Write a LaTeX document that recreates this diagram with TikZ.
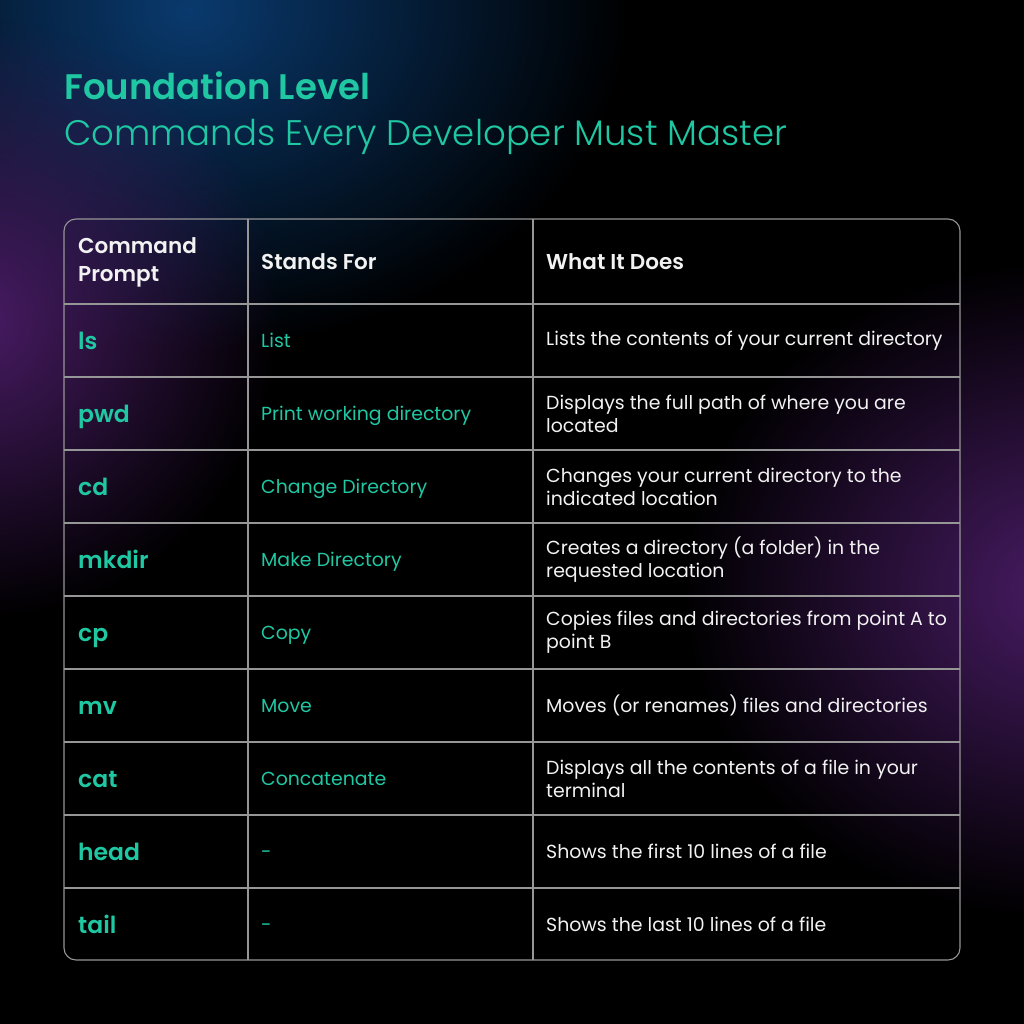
\documentclass[tikz,border=0pt]{standalone}
\usepackage{fontspec}
\setmainfont{Poppins}
\IfFontExistsTF{Poppins Light}{\newfontfamily\poplight{Poppins Light}}{\newfontfamily\poplight{Poppins}}
\IfFontExistsTF{Poppins SemiBold}{\newfontfamily\popsemi{Poppins SemiBold}}{\newcommand\popsemi{\bfseries}}
\usetikzlibrary{fadings}

\definecolor{cmdteal}{RGB}{32,199,163}
\definecolor{gridgray}{RGB}{150,150,150}
\definecolor{glowblue}{RGB}{10,58,110}
\definecolor{glowpurple}{RGB}{72,28,100}
\definecolor{textwhite}{RGB}{242,242,242}

\tikzfading[name=glow, inner color=transparent!0, outer color=transparent!100]

\begin{document}
\begin{tikzpicture}[x=1pt,y=-1pt,
    grid/.style={draw=gridgray, line width=1.1pt},
    headtext/.style={anchor=west, text=textwhite, align=left, font=\fontsize{21.5}{28}\selectfont\popsemi},
    cmdname/.style={anchor=west, text=cmdteal, text height=22pt, text depth=5pt, font=\fontsize{23.5}{26}\selectfont\popsemi},
    standsfor/.style={anchor=west, text=cmdteal, text height=18pt, text depth=4pt, font=\fontsize{18.9}{22}\selectfont},
    whatdoes/.style={anchor=west, text=textwhite, align=left, font=\fontsize{18.9}{23}\selectfont}]

    \fill[black] (0,0) rectangle (1024,1024);
    \useasboundingbox (0,0) rectangle (1024,1024);

    \fill[glowblue, path fading=glow] (190,10) ellipse (440 and 340);
    \fill[glowpurple, path fading=glow] (-20,320) ellipse (300 and 300);
    \fill[glowpurple, path fading=glow] (1060,590) ellipse (380 and 330);

    \node[anchor=base west, inner sep=0, text=cmdteal, font=\fontsize{35.5}{38}\selectfont\popsemi] (title) at (64,100) {Foundation Level};
    \node[anchor=base west, inner sep=0, text=cmdteal, font=\fontsize{35.5}{38}\selectfont\poplight] (subtitle) at (64,146) {Commands Every Developer Must Master};

    \draw[grid, rounded corners=12pt] (64,219) rectangle (960,960);
    \draw[grid] (248,219) -- (248,960);
    \draw[grid] (533,219) -- (533,960);
    \foreach \y in {304,377,450,523,596,669,742,815,888}
      \draw[grid] (64,\y) -- (960,\y);

    \node[headtext, inner sep=0] (head-cmd) at (78,262) {Command\\Prompt};
    \node[headtext, inner sep=0] (head-for) at (261,262) {Stands For};
    \node[headtext, inner sep=0] (head-does) at (546,262) {What It Does};

    \foreach \c/\s/\d [count=\i] in {
        ls/List/{Lists the contents of your current directory},
        pwd/Print working directory/{Displays the full path of where you are\\located},
        cd/Change Directory/{Changes your current directory to the\\indicated location},
        mkdir/Make Directory/{Creates a directory (a folder) in the\\requested location},
        cp/Copy/{Copies files and directories from point A to\\point B},
        mv/Move/{Moves (or renames) files and directories},
        cat/Concatenate/{Displays all the contents of a file in your\\terminal},
        head/-/{Shows the first 10 lines of a file},
        tail/-/{Shows the last 10 lines of a file}} {
      \node[cmdname, inner sep=0] (cmd-\i) at (78,{340.5+73*(\i-1)}) {\c};
      \node[standsfor, inner sep=0] (for-\i) at (261,{340.5+73*(\i-1)}) {\s};
      \node[whatdoes, inner sep=0] (does-\i) at (546,{340.5+73*(\i-1)}) {\d};
    }
\end{tikzpicture}
\end{document}
